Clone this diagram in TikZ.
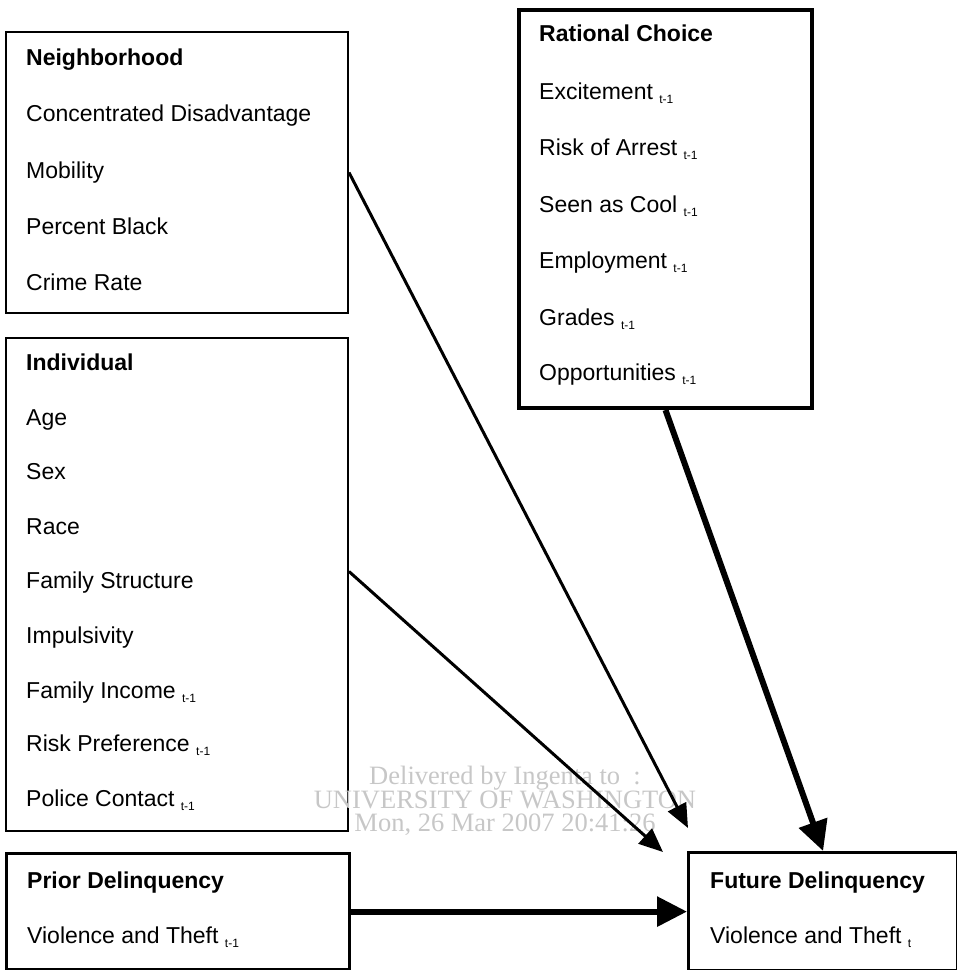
\documentclass[tikz,border=0pt]{standalone}
\usepackage{fontspec}
\setmainfont{Liberation Sans}
\newfontfamily\stampfont{Liberation Serif}
\usepackage{tikz}
\usetikzlibrary{arrows.meta}

% lagged subscript
\newcommand{\lagsub}[1]{\raisebox{-4.5pt}{\fontsize{12}{12}\selectfont #1}}

\tikzset{
    thinbox/.style={draw, line width=2pt, rectangle, anchor=north west, inner sep=0pt},
    thickbox/.style={draw, line width=3.2pt, rectangle, anchor=north west, inner sep=0pt},
    item/.style={anchor=base west, inner sep=0pt, font=\fontsize{23}{27}\selectfont},
    head/.style={item, font=\fontsize{23}{27}\selectfont\bfseries},
    thinarrow/.style={line width=3pt, -{Triangle[length=24pt,width=20pt]}},
    thickarrow/.style={line width=6pt, -{Triangle[length=30pt,width=29pt]}}
}

\begin{document}
\begin{tikzpicture}[x=1pt,y=-1pt]
        \useasboundingbox (0,0) rectangle (957,970);

        % Boxes
        \node[thinbox, minimum width=342pt, minimum height=281pt] (nbhd) at (5,31) {};
        \node[thinbox, minimum width=342pt, minimum height=493pt] (indiv) at (5,337) {};
        \node[thickbox, line width=4pt, minimum width=293pt, minimum height=398pt] (ratc) at (517,8) {};
        \node[thickbox, minimum width=343pt, minimum height=116pt] (prior) at (5,852) {};
        \node[thickbox, minimum width=269pt, minimum height=118pt] (future) at (687,851) {};

        % Neighborhood
        \node[head] (nbhdT) at (26,65) {Neighborhood};
        \node[item] (nbhd1) at (26,121) {Concentrated Disadvantage};
        \node[item] (nbhd2) at (26,178) {Mobility};
        \node[item] (nbhd3) at (26,234) {Percent Black};
        \node[item] (nbhd4) at (26,290) {Crime Rate};

        % Individual
        \node[head] (indivT) at (26,370) {Individual};
        \node[item] (indiv1) at (26,425) {Age};
        \node[item] (indiv2) at (26,479) {Sex};
        \node[item] (indiv3) at (26,534) {Race};
        \node[item] (indiv4) at (26,588) {Family Structure};
        \node[item] (indiv5) at (26,643) {Impulsivity};
        \node[item] (indiv6) at (26,698) {Family Income \lagsub{t-1}};
        \node[item] (indiv7) at (26,751) {Risk Preference \lagsub{t-1}};
        \node[item] (indiv8) at (26,806) {Police Contact \lagsub{t-1}};

        % Rational choice
        \node[head] (ratcT) at (539,41) {Rational Choice};
        \node[item] (ratc1) at (539,99) {Excitement \lagsub{t-1}};
        \node[item] (ratc2) at (539,155) {Risk of Arrest \lagsub{t-1}};
        \node[item] (ratc3) at (539,212) {Seen as Cool \lagsub{t-1}};
        \node[item] (ratc4) at (539,268) {Employment \lagsub{t-1}};
        \node[item] (ratc5) at (539,325) {Grades \lagsub{t-1}};
        \node[item] (ratc6) at (539,380) {Opportunities \lagsub{t-1}};

        % Prior and future delinquency
        \node[head] (priorT) at (27,888) {Prior Delinquency};
        \node[item] (prior1) at (27,943) {Violence and Theft \lagsub{t-1}};
        \node[head] (futureT) at (710,888) {Future Delinquency};
        \node[item] (future1) at (710,943) {Violence and Theft \lagsub{t}};

        % Delivery stamp
        \node[text=black!22, align=center, inner sep=0pt,
              font=\stampfont\fontsize{26.5}{23}\selectfont] (stamp) at (505,801)
              {Delivered by Ingenta to~~:\\UNIVERSITY OF WASHINGTON\\Mon, 26 Mar 2007 20:41:26};

        % Free ends of the thin arrows
        \coordinate (nbhdEnd) at (688,828);
        \coordinate (indivEnd) at (663,852);

        % Arrows
        \draw[thinarrow] (nbhd.east) -- (nbhdEnd);
        \draw[thinarrow] ([yshift=13pt]indiv.east) -- (indivEnd);
        \draw[thickarrow] (ratc.south) -- (future.north);
        \draw[thickarrow] (prior.east) -- (future.west);

\end{tikzpicture}
\end{document}
